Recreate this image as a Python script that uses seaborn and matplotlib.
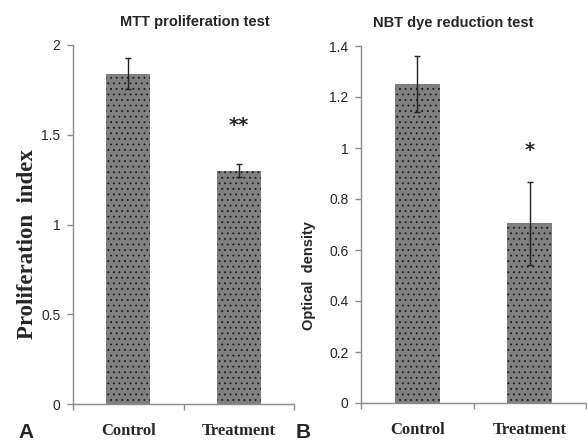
import matplotlib
matplotlib.use('Agg')
import matplotlib.pyplot as plt
import seaborn as sns
import pandas as pd

groups = ['Control', 'Treatment']

mtt_mean = [1.84, 1.30]
mtt_err = [0.085, 0.035]
mtt_ticks = [0, 0.5, 1, 1.5, 2]
mtt_ticklabels = ['0', '0.5', '1', '1.5', '2']

nbt_mean = [1.25, 0.705]
nbt_err = [0.11, 0.163]
nbt_ticks = [0, 0.2, 0.4, 0.6, 0.8, 1, 1.2, 1.4]
nbt_ticklabels = ['0', '0.2', '0.4', '0.6', '0.8', '1', '1.2', '1.4']

sns.set_style('ticks')
sans = ['Liberation Sans', 'DejaVu Sans']
serif = ['Liberation Serif', 'DejaVu Serif']
plt.rcParams['font.family'] = sans
plt.rcParams['hatch.linewidth'] = 0.6

spine_col = '#8c8c8c'


def panel(ax, means, errs, ticks, ticklabels, ymax, title, title_x, star, star_y):
    df = pd.DataFrame({'group': groups, 'value': means})
    sns.barplot(data=df, x='group', y='value', order=groups, ax=ax, width=0.4,
                color='#808080', saturation=1, errorbar=None,
                edgecolor='#1a1a1a', linewidth=0, hatch='...')
    ax.errorbar(range(len(groups)), means, yerr=errs, fmt='none', ecolor='#222222',
                elinewidth=1, capsize=2.5, capthick=1)
    ax.set_xlim(-0.5, 1.5)
    ax.set_ylim(0, ymax)
    ax.set_yticks(ticks)
    ax.set_yticklabels(ticklabels, fontsize=10, family=sans)
    ax.set_xticks(range(len(groups)))
    ax.set_xticklabels(groups, fontsize=12, fontweight='bold', family=serif)
    ax.set_xticks([-0.5, 0.5, 1.5], minor=True)
    ax.tick_params(axis='x', which='major', length=0, pad=14)
    ax.tick_params(axis='x', which='minor', length=4, color=spine_col, width=1)
    ax.tick_params(axis='y', length=4, color=spine_col, width=1, pad=5)
    ax.set_xlabel('')
    ax.set_ylabel('')
    for s in ['top', 'right']:
        ax.spines[s].set_visible(False)
    for s in ['left', 'bottom']:
        ax.spines[s].set_color(spine_col)
        ax.spines[s].set_linewidth(1)
    ax.set_title(title, x=title_x, fontsize=10.5, fontweight='bold', family=sans, pad=14)
    ax.text(1, star_y, star, ha='center', va='center', fontsize=14, fontweight='bold',
            family=['DejaVu Sans'])


fig = plt.figure(figsize=(5.87, 4.41), dpi=100)
ax1 = fig.add_axes([73 / 587, 37 / 441, 221 / 587, 359 / 441])
ax2 = fig.add_axes([361 / 587, 38 / 441, 225 / 587, 357 / 441])

panel(ax1, mtt_mean, mtt_err, mtt_ticks, mtt_ticklabels, 2, 'MTT proliferation test', 0.55, '**', 1.55)
panel(ax2, nbt_mean, nbt_err, nbt_ticks, nbt_ticklabels, 1.4, 'NBT dye reduction test', 0.41, '*', 0.99)

fig.text(28 / 587, 1 - 244 / 441, 'Proliferation  index', rotation=90, ha='center', va='center',
         fontsize=16.5, fontweight='bold', family=serif)
fig.text(309 / 587, 1 - 276 / 441, 'Optical  density', rotation=90, ha='center', va='center',
         fontsize=10.5, fontweight='bold', family=sans)

fig.text(26 / 587, 1 - 432 / 441, 'A', ha='center', va='center', fontsize=15, fontweight='bold', family=sans)
fig.text(303 / 587, 1 - 432 / 441, 'B', ha='center', va='center', fontsize=15, fontweight='bold', family=sans)

fig.savefig('out.png', dpi=100)
